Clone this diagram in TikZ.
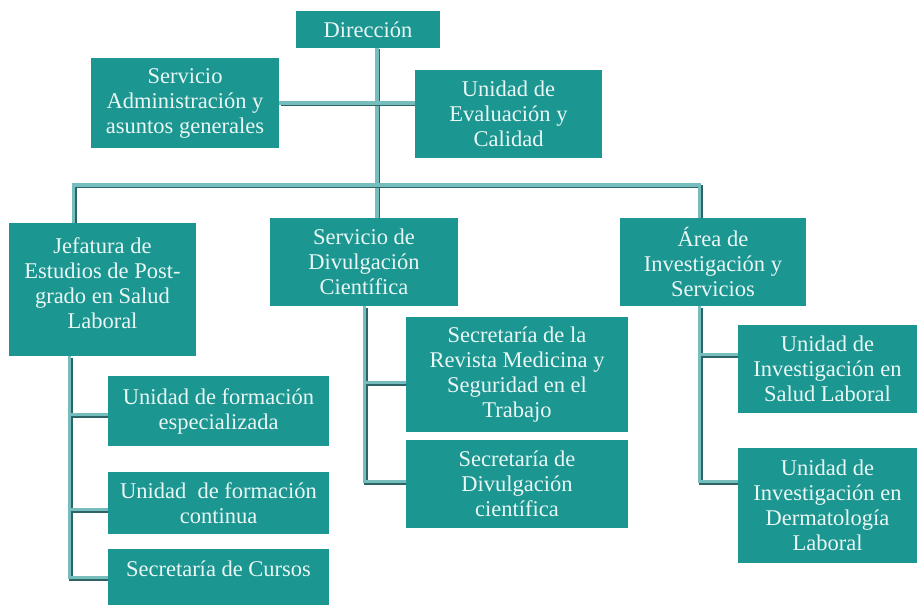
\documentclass[tikz,border=0pt]{standalone}
\usepackage{fontspec}
\setmainfont{Liberation Serif}
\usetikzlibrary{calc,backgrounds}
\definecolor{boxfill}{RGB}{27,150,145}
\definecolor{boxtext}{RGB}{234,247,245}
\definecolor{connlight}{RGB}{118,190,190}
\definecolor{connedge}{RGB}{45,100,102}
\tikzset{
  orgbox/.style={fill=boxfill, text=boxtext, align=center, inner sep=2pt,
    font=\fontsize{22.5}{25}\selectfont},
  conn/.style={draw=connlight, line width=3.2pt,
    preaction={draw=connedge, line width=3.6pt, transform canvas={shift={(1.3pt,-1.3pt)}}}},
}
\begin{document}
\begin{tikzpicture}[x=1pt,y=-1pt]
\useasboundingbox (0,0) rectangle (917,605);
\clip (0,0) rectangle (917,605);
% boxes
\node[orgbox, minimum width=144, minimum height=37] (dir) at (368,29.5) {Dirección};
\node[orgbox, minimum width=188, minimum height=90] (adm) at (185,103) {Servicio\\Administración y\\asuntos generales};
\node[orgbox, minimum width=187, minimum height=88] (eva) at (508.5,114) {Unidad de\\Evaluación y\\Calidad};
\node[orgbox, minimum width=187, minimum height=133, text depth=12pt] (jef) at (102.5,289.5) {Jefatura de\\Estudios de Post-\\grado en Salud\\Laboral};
\node[orgbox, minimum width=188, minimum height=88] (div) at (364,262) {Servicio de\\Divulgación\\Científica};
\node[orgbox, minimum width=186, minimum height=88] (area) at (713,262) {Área de\\Investigación y\\Servicios};
\node[orgbox, minimum width=221, minimum height=70] (ufe) at (218.5,411) {Unidad de formación\\especializada};
\node[orgbox, minimum width=221, minimum height=62] (ufc) at (218.5,503) {Unidad~ de formación\\continua};
\node[orgbox, minimum width=221, minimum height=56, text depth=16pt] (sc) at (218.5,577) {Secretaría de Cursos};
\node[orgbox, minimum width=222, minimum height=115] (srev) at (517,374.5) {Secretaría de la\\Revista Medicina y\\Seguridad en el\\Trabajo};
\node[orgbox, minimum width=222, minimum height=88] (sdiv) at (517,484) {Secretaría de\\Divulgación\\científica};
\node[orgbox, minimum width=179, minimum height=88] (uisl) at (827.5,369) {Unidad de\\Investigación en\\Salud Laboral};
\node[orgbox, minimum width=179, minimum height=115] (uid) at (827.5,505.5) {Unidad de\\Investigación en\\Dermatología\\Laboral};
% connector points
\coordinate (t0) at (377,48);
\coordinate (bus) at (377,185);
\coordinate (jtop) at ($(jef.north west)+(65,0)$);
\coordinate (atop) at ($(area.north west)+(80,0)$);
\coordinate (jt) at ($(jef.south west)+(61,0)$);
\coordinate (dt) at ($(div.south west)+(95,0)$);
\coordinate (at) at ($(area.south west)+(80,0)$);
\begin{scope}[on background layer]
\draw[conn] (t0) -- (t0 |- div.north);
\draw[conn] (adm.east) -- (adm.east -| eva.west);
\draw[conn] (jtop) |- (bus) -| (atop);
\draw[conn] (jt) |- ($(sc.north west)+(0,29)$);
\draw[conn] (jt |- ufe.north west) ++(0,39) -- ($(ufe.north west)+(0,39)$);
\draw[conn] (jt |- ufc.north west) ++(0,38) -- ($(ufc.north west)+(0,38)$);
\draw[conn] (dt) |- ($(sdiv.north west)+(0,42)$);
\draw[conn] (dt |- srev.north west) ++(0,66) -- ($(srev.north west)+(0,66)$);
\draw[conn] (at) |- ($(uid.north west)+(0,34)$);
\draw[conn] (at |- uisl.north west) ++(0,30) -- ($(uisl.north west)+(0,30)$);
\end{scope}
\end{tikzpicture}
\end{document}
